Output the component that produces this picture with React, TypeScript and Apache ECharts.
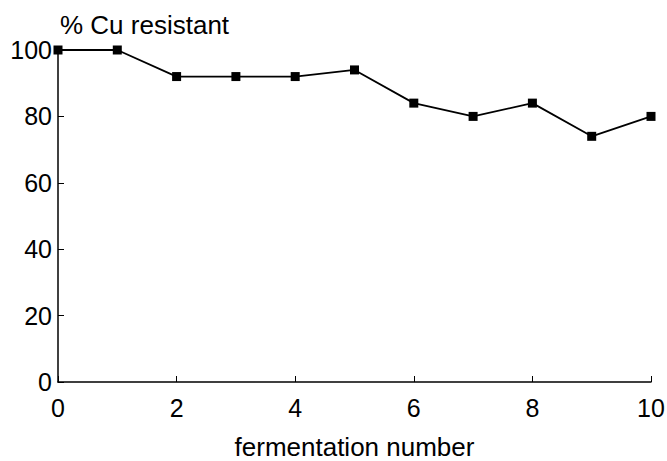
import React, { useEffect, useRef } from "react";
import * as echarts from "echarts";

const fermentation = [0, 1, 2, 3, 4, 5, 6, 7, 8, 9, 10];
const cuResistant = [100, 100, 92, 92, 92, 94, 84, 80, 84, 74, 80];
const xTicks = [0, 2, 4, 6, 8, 10];
const yTicks = [0, 20, 40, 60, 80, 100];

const FONT = "Liberation Sans, Arial, Helvetica, sans-serif";

export default function App() {
  const ref = useRef<HTMLDivElement>(null);
  useEffect(() => {
    if (!ref.current) return;
    const chart = echarts.init(ref.current, undefined, { renderer: "svg" });
    chart.setOption({
      animation: false,
      backgroundColor: "#ffffff",
      title: {
        text: "% Cu resistant",
        left: 55,
        top: 7,
        textStyle: { fontFamily: FONT, fontSize: 26, fontWeight: "normal", color: "#000" },
      },
      grid: { left: 58, right: 16, top: 50, bottom: 79, containLabel: false, outerBoundsMode: "none" },
      xAxis: {
        type: "value",
        min: xTicks[0],
        max: xTicks[xTicks.length - 1],
        interval: xTicks[1] - xTicks[0],
        name: "fermentation number",
        nameLocation: "middle",
        nameGap: 54,
        nameTextStyle: { fontFamily: FONT, fontSize: 26, lineHeight: 22, color: "#000" },
        axisLine: { show: true, lineStyle: { color: "#000", width: 1.5 } },
        axisTick: { show: true, inside: true, length: 6, lineStyle: { color: "#000", width: 1 } },
        axisLabel: { margin: 13, fontFamily: FONT, fontSize: 25, color: "#000" },
        splitLine: { show: false },
      },
      yAxis: {
        type: "value",
        min: yTicks[0],
        max: yTicks[yTicks.length - 1],
        interval: yTicks[1] - yTicks[0],
        axisLine: { show: true, lineStyle: { color: "#000", width: 1.5 } },
        axisTick: { show: true, inside: true, length: 6, lineStyle: { color: "#000", width: 1 } },
        axisLabel: { margin: 6, fontFamily: FONT, fontSize: 25, color: "#000" },
        splitLine: { show: false },
      },
      series: [
        {
          type: "line",
          data: fermentation.map((x, i) => [x, cuResistant[i]]),
          symbol: "rect",
          symbolSize: 9,
          clip: false,
          lineStyle: { color: "#000", width: 1.8 },
          itemStyle: { color: "#000" },
        },
      ],
    });
    return () => chart.dispose();
  }, []);
  return <div ref={ref} style={{ width: 667, height: 461, position: "absolute", left: 0, top: 0 }} />;
}
